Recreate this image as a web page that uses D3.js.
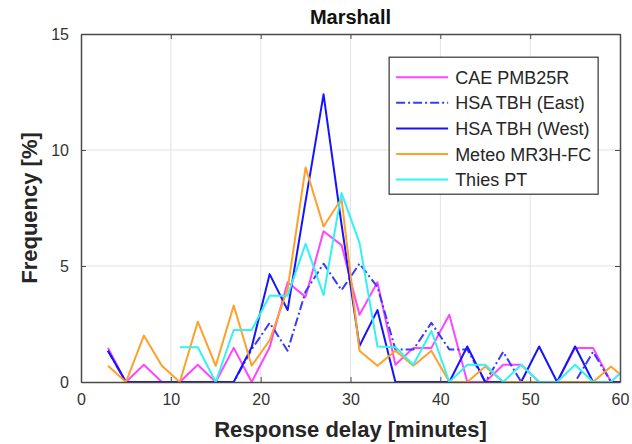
<!DOCTYPE html>
<html lang="en">
<head>
    <meta charset="UTF-8">
    <title>Marshall</title>
    <script src="https://d3js.org/d3.v7.min.js"></script>
    <style>
        body {
            margin: 0;
            background: white;
            font-family: 'Liberation Sans', Arial, sans-serif;
        }
        .grid line { stroke: #e3e3e3; stroke-width: 1; }
        .axis path, .axis line { stroke: #4a4a4a; }
        .axis text { fill: #333; font-size: 16px; font-family: 'Liberation Sans', Arial, sans-serif; }
        .line { fill: none; stroke-width: 2; stroke-linejoin: round; }
    </style>
</head>
<body>
    <div id="chart"></div>

    <script>
        // Response delay bins (minutes)
        const delays = [3, 5, 7, 9, 11, 13, 15, 17, 19, 21, 23, 25, 27, 29, 31, 33, 35, 37, 39, 41, 43, 45, 47, 49, 51, 53, 55, 57, 59, 61];

        // Frequency [%] per series
        const caePmb25r = [1.47, 0, 0.74, 0, 0, 0.74, 0, 1.47, 0, 1.5, 4.3, 3.67, 6.5, 5.9, 2.9, 4.3, 0.74, 1.47, 1.47, 2.9, 0, 0, 0.74, 0.74, 0, 0, 1.47, 1.47, 0, 0];
        const hsaEast = [1.35, 0, 0, 0, 0, 0, 0, 0, 1.4, 2.55, 1.35, 3.9, 5.1, 3.96, 5.1, 4.1, 1.4, 1.4, 2.55, 1.4, 1.4, 0, 1.3, 0, 0, 0, 0, 1.3, 0, 0];
        const hsaWest = [1.35, 0, 0, 0, 0, 0, 0, 0, 1.5, 4.65, 3.1, 7.8, 12.4, 6.8, 1.55, 3.1, 0, 0, 0, 0, 1.53, 0, 0, 0, 1.53, 0, 1.53, 0, 0, 0];
        const meteo = [0.7, 0, 2.0, 0.7, 0, 2.6, 0.7, 3.3, 0.7, 1.8, 4.0, 9.25, 6.7, 7.9, 1.35, 0.7, 1.35, 0.7, 1.35, 0, 0, 0.67, 0, 0, 0, 0, 0, 0, 0.67, 0];
        const thiesPt = [null, null, null, null, 1.5, 1.5, 0, 2.24, 2.24, 3.72, 3.72, 5.96, 3.75, 8.15, 6.0, 1.53, 1.5, 0.74, 2.2, 0, 0.74, 0.74, 0, 0.74, 0, 0, 0.74, 0, 0, 0.74];

        const xTicks = [0, 10, 20, 30, 40, 50, 60];
        const yTicks = [0, 5, 10, 15];

        const series = [
            {name: "CAE PMB25R", values: caePmb25r, color: "#ff45ff", dash: null},
            {name: "HSA TBH (East)", values: hsaEast, color: "#3a3aff", dash: "9,3,2,3"},
            {name: "HSA TBH (West)", values: hsaWest, color: "#1414ff", dash: null},
            {name: "Meteo MR3H-FC", values: meteo, color: "#ffa02a", dash: null},
            {name: "Thies PT", values: thiesPt, color: "#33f2f2", dash: null}
        ];

        const margin = {top: 34, right: 12, bottom: 62, left: 81};
        const width = 632 - margin.left - margin.right;
        const height = 444 - margin.top - margin.bottom;

        const root = d3.select("#chart")
            .append("svg")
            .attr("width", 632)
            .attr("height", 444);

        const svg = root.append("g")
            .attr("transform", `translate(${margin.left},${margin.top})`);

        const x = d3.scaleLinear().domain([0, 60]).range([0, width]);
        const y = d3.scaleLinear().domain([0, 15]).range([height, 0]);

        // grid
        svg.append("g").attr("class", "grid")
            .selectAll("line").data(xTicks.slice(1, -1)).enter().append("line")
            .attr("x1", d => x(d)).attr("x2", d => x(d))
            .attr("y1", 0).attr("y2", height);
        svg.append("g").attr("class", "grid")
            .selectAll("line").data(yTicks.slice(1, -1)).enter().append("line")
            .attr("y1", d => y(d)).attr("y2", d => y(d))
            .attr("x1", 0).attr("x2", width);

        svg.append("defs").append("clipPath").attr("id", "clip")
            .append("rect").attr("width", width).attr("height", height);

        const line = d3.line()
            .defined(d => d.v !== null)
            .x(d => x(d.x))
            .y(d => y(d.v));

        const plot = svg.append("g").attr("clip-path", "url(#clip)");
        series.forEach(s => {
            plot.append("path")
                .datum(delays.map((d, i) => ({x: d, v: s.values[i]})))
                .attr("class", "line")
                .attr("stroke", s.color)
                .attr("stroke-dasharray", s.dash)
                .attr("d", line);
        });

        // axes (box with inward ticks)
        svg.append("g").attr("class", "axis")
            .attr("transform", `translate(0,${height})`)
            .call(d3.axisBottom(x).tickValues(xTicks).tickSizeInner(-5).tickSizeOuter(0).tickPadding(12));
        svg.append("g").attr("class", "axis")
            .call(d3.axisTop(x).tickValues(xTicks).tickSizeInner(-5).tickSizeOuter(0).tickFormat(""));
        svg.append("g").attr("class", "axis")
            .call(d3.axisLeft(y).tickValues(yTicks).tickSizeInner(-5).tickSizeOuter(0).tickPadding(12));
        svg.append("g").attr("class", "axis")
            .attr("transform", `translate(${width},0)`)
            .call(d3.axisRight(y).tickValues(yTicks).tickSizeInner(-5).tickSizeOuter(0).tickFormat(""));
        svg.selectAll(".axis path").attr("stroke-width", 1.5);

        // title and labels
        svg.append("text")
            .attr("x", width / 2).attr("y", -10)
            .attr("text-anchor", "middle")
            .attr("font-weight", "bold").attr("font-size", "20px").attr("fill", "#111")
            .text("Marshall");

        svg.append("text")
            .attr("x", width / 2).attr("y", height + 55)
            .attr("text-anchor", "middle")
            .attr("font-weight", "bold").attr("font-size", "22px").attr("fill", "#262626")
            .text("Response delay [minutes]");

        svg.append("text")
            .attr("transform", "rotate(-90)")
            .attr("x", -height / 2).attr("y", -44)
            .attr("text-anchor", "middle")
            .attr("font-weight", "bold").attr("font-size", "22px").attr("fill", "#262626")
            .text("Frequency [%]");

        // legend
        const legend = svg.append("g")
            .attr("transform", `translate(${x(34.3)},${y(14.0)})`);
        legend.append("rect")
            .attr("width", 209).attr("height", 137)
            .attr("fill", "white").attr("stroke", "#333").attr("stroke-width", 1.2);

        const items = legend.selectAll(".legend-item")
            .data(series).enter().append("g")
            .attr("transform", (d, i) => `translate(0,${20 + i * 25.6})`);
        items.append("line")
            .attr("x1", 7).attr("x2", 59)
            .attr("stroke", d => d.color)
            .attr("stroke-width", 2)
            .attr("stroke-dasharray", d => d.dash);
        items.append("text")
            .attr("x", 66).attr("y", 6.5)
            .attr("font-size", "18px").attr("fill", "#262626")
            .text(d => d.name);
    </script>
</body>
</html>
